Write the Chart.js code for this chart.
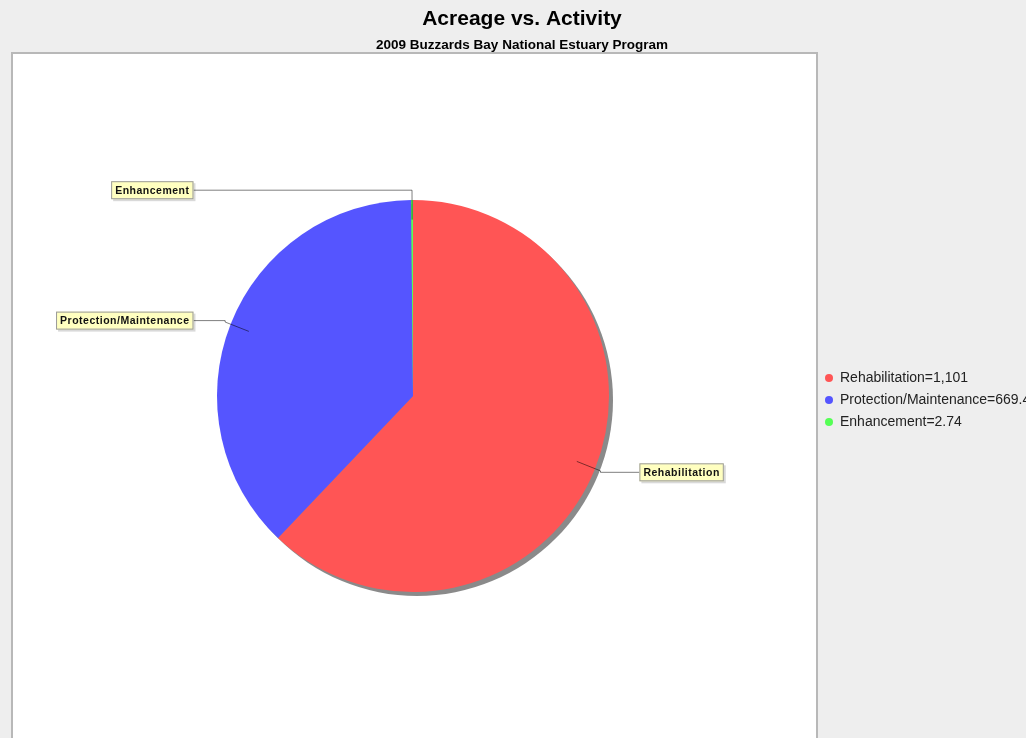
<!DOCTYPE html>
<html>
<head>
<meta charset="utf-8">
<script src="https://cdn.jsdelivr.net/npm/chart.js@4.4.0/dist/chart.umd.min.js"></script>
<style>
  html, body { margin: 0; padding: 0; overflow: hidden; background: #eeeeee; }
  canvas { display: block; }
</style>
</head>
<body>
<canvas id="pieChart" width="1035" height="738"></canvas>
<script>
// Chart data
const titleText = 'Acreage vs. Activity';
const subtitleText = '2009 Buzzards Bay National Estuary Program';
const categories = ['Rehabilitation', 'Protection/Maintenance', 'Enhancement'];
const acreage = [1101, 669.4, 2.74];
const sliceColors = ['#ff5555', '#5555ff', '#55ff55'];

// plot frame (JFreeChart style white plot area)
const frame = { left: 12, top: 53, right: 817 };

Chart.defaults.font.family = '"Liberation Sans", Arial, sans-serif';

const pieDecor = {
    id: 'pieDecor',
    beforeDraw(chart) {
        const ctx = chart.ctx;
        ctx.save();
        ctx.fillStyle = '#eeeeee';
        ctx.fillRect(0, 0, chart.width, chart.height);
        ctx.fillStyle = '#ffffff';
        ctx.fillRect(frame.left, frame.top, frame.right - frame.left, chart.height);
        ctx.strokeStyle = '#b8b8b8';
        ctx.lineWidth = 2;
        ctx.beginPath();
        ctx.moveTo(frame.left, chart.height + 4);
        ctx.lineTo(frame.left, frame.top);
        ctx.lineTo(frame.right, frame.top);
        ctx.lineTo(frame.right, chart.height + 4);
        ctx.stroke();
        ctx.restore();
    },
    beforeDatasetsDraw(chart) {
        // drop shadow under the pie
        const arc = chart.getDatasetMeta(0).data[0];
        const p = arc.getProps(['x', 'y', 'outerRadius'], true);
        const ctx = chart.ctx;
        ctx.save();
        ctx.fillStyle = '#8a8a8a';
        ctx.beginPath();
        ctx.arc(p.x + 4, p.y + 4, p.outerRadius, 0, Math.PI * 2);
        ctx.fill();
        ctx.restore();
    },
    afterDatasetsDraw(chart) {
        // section labels with link lines
        const ctx = chart.ctx;
        const meta = chart.getDatasetMeta(0);
        ctx.save();
        ctx.font = 'bold 10.5px "Liberation Sans", Arial, sans-serif';
        ctx.letterSpacing = '0.5px';
        ctx.textBaseline = 'middle';
        meta.data.forEach((arc, i) => {
            const p = arc.getProps(['x', 'y', 'startAngle', 'endAngle', 'outerRadius'], true);
            const mid = (p.startAngle + p.endAngle) / 2;
            const cos = Math.cos(mid), sin = Math.sin(mid);
            const r = p.outerRadius;
            const inner = { x: p.x + cos * r * 0.9, y: p.y + sin * r * 0.9 };
            const elbow = { x: p.x + cos * r * 1.03, y: p.y + sin * r * 1.03 };
            const ly = p.y + sin * r * 1.05;
            const onRight = cos >= 0;
            const text = categories[i];
            const bw = ctx.measureText(text).width + 8, bh = 18;
            const edge = onRight ? p.x + r * 1.155 : p.x - r * 1.12;
            const bx = onRight ? edge : edge - bw;
            const by = ly - bh / 2;

            ctx.strokeStyle = 'rgba(0,0,0,0.5)';
            ctx.lineWidth = 1;
            ctx.beginPath();
            ctx.moveTo(inner.x, inner.y);
            ctx.lineTo(elbow.x, elbow.y);
            ctx.lineTo(elbow.x, ly);
            ctx.lineTo(edge, ly);
            ctx.stroke();

            ctx.fillStyle = 'rgba(0,0,0,0.15)';
            ctx.fillRect(bx + 2, by + 2, bw, bh);
            ctx.fillStyle = '#ffffc0';
            ctx.fillRect(bx, by, bw, bh);
            ctx.strokeStyle = '#9a9a9a';
            ctx.strokeRect(bx + 0.5, by + 0.5, bw - 1, bh - 1);
            ctx.fillStyle = '#111111';
            ctx.fillText(text, bx + 4, ly + 0.5);
        });
        ctx.restore();
    }
};

const baseLabels = (Chart.overrides.pie || Chart.overrides.doughnut).plugins.legend.labels.generateLabels;

const ctx = document.getElementById('pieChart').getContext('2d');
new Chart(ctx, {
    type: 'pie',
    data: {
        labels: categories,
        datasets: [{
            data: acreage,
            backgroundColor: sliceColors,
            borderWidth: 0,
            hoverOffset: 0,
            offset: 0
        }]
    },
    options: {
        responsive: false,
        animation: false,
        events: [],
        layout: { padding: { left: 9, right: 0, top: 0, bottom: 146 } },
        plugins: {
            title: {
                display: true,
                text: titleText,
                color: '#000000',
                font: { size: 21, weight: 'bold', lineHeight: 1.2 },
                padding: { top: 7, bottom: 0 }
            },
            subtitle: {
                display: true,
                text: subtitleText,
                color: '#000000',
                font: { size: 13.5, weight: 'bold', lineHeight: 1.2 },
                padding: { top: 5, bottom: 146.6 }
            },
            legend: {
                position: 'right',
                align: 'center',
                fullSize: false,
                maxWidth: 218,
                title: { display: true, text: '', padding: 0, font: { size: 8, lineHeight: 1 } },
                labels: {
                    usePointStyle: true,
                    pointStyle: 'circle',
                    pointStyleWidth: 8,
                    boxHeight: 5.66,
                    padding: 8,
                    color: '#222222',
                    font: { size: 14 },
                    generateLabels(chart) {
                        const items = baseLabels(chart);
                        items.forEach((it, i) => {
                            it.text = categories[i] + '=' + acreage[i].toLocaleString('en-US');
                            it.lineWidth = 0;
                        });
                        return items;
                    }
                }
            },
            tooltip: { enabled: false }
        }
    },
    plugins: [pieDecor]
});
</script>
</body>
</html>
